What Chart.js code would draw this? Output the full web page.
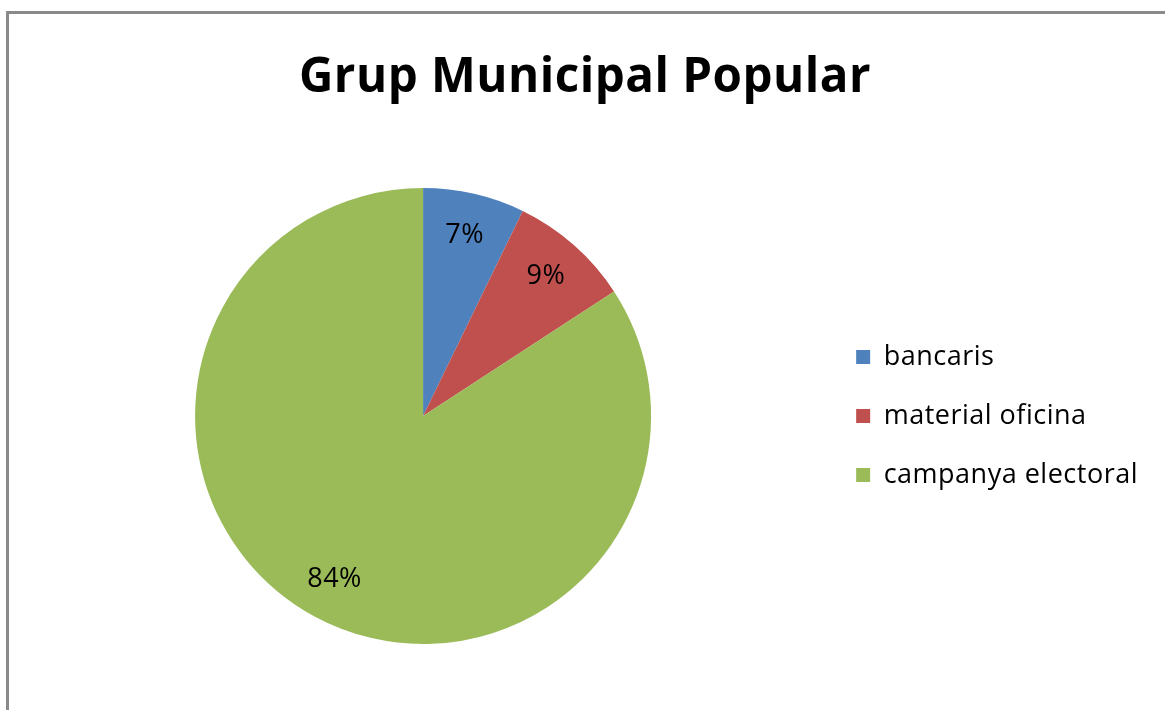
<!DOCTYPE html>
<html>
<head>
<meta charset="utf-8">
<script src="https://cdn.jsdelivr.net/npm/chart.js@4.4.0/dist/chart.umd.min.js"></script>
<style>
  html, body { margin: 0; padding: 0; background: #fff; overflow: hidden; }
  #frame { position: absolute; left: 6px; top: 11px; width: 1165px; height: 710px;
           border-left: 3px solid #8a8a8a; border-top: 3px solid #8a8a8a; box-sizing: border-box; }
  #wrap { position: absolute; left: 0; top: 0; width: 1165px; height: 710px; }
</style>
</head>
<body>
<div id="frame"></div>
<div id="wrap"><canvas id="c"></canvas></div>
<script>
const chartTitle = "Grup Municipal Popular";
const categories = ["bancaris", "material oficina", "campanya electoral"];
const values = [7.2, 8.6, 84.2];
const colors = ["#4F81BD", "#C0504D", "#9BBB59"];

const FONT = "'Open Sans', Lato, sans-serif";
const LETTER_SPACING = "0.5px";

const spacing = {
  id: 'spacing',
  beforeUpdate(chart) { chart.ctx.letterSpacing = LETTER_SPACING; },
  beforeLayout(chart) { chart.ctx.letterSpacing = LETTER_SPACING; },
  beforeDraw(chart) { chart.ctx.letterSpacing = LETTER_SPACING; }
};

const pctLabels = {
  id: 'pctLabels',
  afterDatasetsDraw(chart) {
    const ctx = chart.ctx;
    const meta = chart.getDatasetMeta(0);
    const total = values.reduce((a, b) => a + b, 0);
    ctx.save();
    ctx.font = "27px " + FONT;
    ctx.fillStyle = "#000";
    ctx.textAlign = "center";
    ctx.textBaseline = "middle";
    meta.data.forEach((arc, i) => {
      const p = arc.getProps(['x', 'y', 'startAngle', 'endAngle', 'outerRadius'], true);
      const mid = (p.startAngle + p.endAngle) / 2;
      const r = p.outerRadius * 0.815;
      const txt = Math.round(values[i] / total * 100) + "%";
      ctx.fillText(txt, p.x + Math.cos(mid) * r, p.y + Math.sin(mid) * r);
    });
    ctx.restore();
  }
};

new Chart(document.getElementById('c'), {
  type: 'pie',
  data: {
    labels: categories,
    datasets: [{ data: values, backgroundColor: colors, borderWidth: 0 }]
  },
  options: {
    responsive: true,
    maintainAspectRatio: false,
    animation: false,
    layout: { padding: { left: 22, right: 17, top: 40, bottom: 66 } },
    plugins: {
      title: {
        display: true, text: chartTitle, color: "#000",
        font: { family: FONT, size: 47.5, weight: 'bold', lineHeight: 1.2 },
        padding: { top: 10, bottom: 81 }
      },
      legend: {
        position: 'right',
        fullSize: false,
        labels: {
          color: "#000",
          font: { family: FONT, size: 27 },
          boxWidth: 14, boxHeight: 14,
          padding: 32
        }
      },
      tooltip: { enabled: false }
    }
  },
  plugins: [spacing, pctLabels]
});
</script>
</body>
</html>
